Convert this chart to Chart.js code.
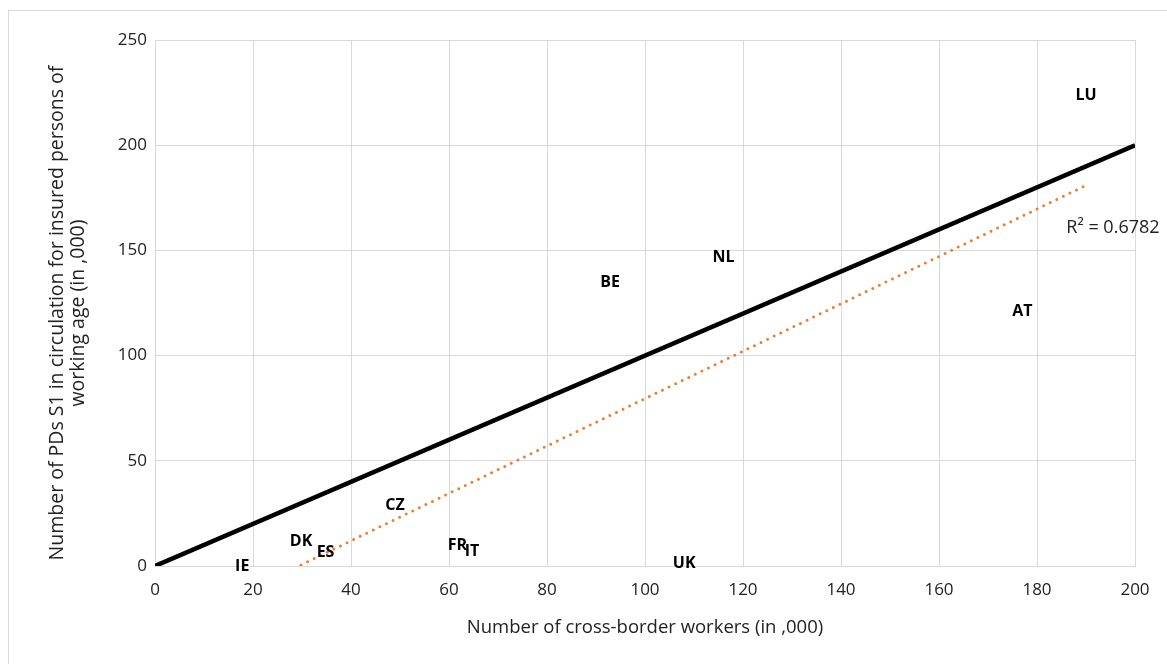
<!DOCTYPE html>
<html>
<head>
<meta charset="utf-8">
<script src="https://cdn.jsdelivr.net/npm/chart.js@4.4.1/dist/chart.umd.min.js"></script>
<style>
  html, body { margin: 0; padding: 0; background: #fff; }
  #wrap { width: 1167px; height: 664px; position: relative; }
</style>
</head>
<body>
<div id="wrap"><canvas id="scatter" width="1167" height="664"></canvas></div>
<script>
// countries and their values (in ,000)
var countries = ["IE", "DK", "ES", "CZ", "FR", "IT", "UK", "BE", "NL", "AT", "LU"];
var workers   = [17.8, 29.8, 34.8, 49, 61.7, 64.7, 108, 92.9, 116, 177, 190];
var pds       = [0, 11.9, 6.3, 29, 9.7, 7.1, 1.4, 134.6, 146.5, 121, 223.8];

// reference line x = y, and the trendline ends as shown
var refX = [0, 200];
var refY = [0, 200];
var trendX = [29.8, 189.6];
var trendY = [0.5, 180.5];
var r2Text = "R\u00B2 = 0.6782";
var r2Pos = [195.5, 160.6];

var xTicks = [0, 20, 40, 60, 80, 100, 120, 140, 160, 180, 200];
var yTicks = [0, 50, 100, 150, 200, 250];
var yTitle = ['Number of PDs S1 in circulation for insured persons of', 'working age (in ,000)'];

function toPoints(xs, ys) {
    var arr = [];
    for (var i = 0; i < xs.length; i++) {
        arr.push({x: xs[i], y: ys[i]});
    }
    return arr;
}

var FONT = "'Open Sans', 'Liberation Sans', sans-serif";

var labelPlugin = {
    id: 'pointLabels',
    beforeDraw: function (chart) {
        var ctx = chart.ctx;
        ctx.save();
        ctx.strokeStyle = '#d9d9d9';
        ctx.lineWidth = 1;
        ctx.strokeRect(8.5, 10.5, 1200, 700);
        ctx.restore();
    },
    afterDraw: function (chart) {
        // y axis title, two lines, rotated
        var ctx = chart.ctx;
        ctx.save();
        ctx.translate(57, 313);
        ctx.rotate(-Math.PI / 2);
        ctx.font = "19.5px " + FONT;
        ctx.fillStyle = '#222';
        ctx.textAlign = 'center';
        ctx.textBaseline = 'middle';
        ctx.fillText(yTitle[0], 0, 0);
        ctx.fillText(yTitle[1], 0, 21);
        ctx.restore();
    },
    afterDatasetsDraw: function (chart) {
        var ctx = chart.ctx;
        var meta = chart.getDatasetMeta(0);
        ctx.save();
        ctx.font = "bold 16px " + FONT;
        ctx.fillStyle = '#000';
        ctx.textAlign = 'center';
        ctx.textBaseline = 'middle';
        for (var i = 0; i < meta.data.length; i++) {
            var p = meta.data[i];
            ctx.fillText(countries[i], p.x, p.y);
        }
        ctx.font = "18px " + FONT;
        ctx.fillStyle = '#222';
        ctx.fillText(r2Text, chart.scales.x.getPixelForValue(r2Pos[0]), chart.scales.y.getPixelForValue(r2Pos[1]));
        ctx.restore();
    }
};

var ctx = document.getElementById("scatter").getContext("2d");
new Chart(ctx, {
    type: 'scatter',
    data: {
        datasets: [{
            label: 'Countries',
            data: toPoints(workers, pds),
            pointRadius: 0,
            pointHoverRadius: 0,
            showLine: false
        }, {
            label: 'x = y',
            data: toPoints(refX, refY),
            showLine: true,
            borderColor: '#000',
            borderWidth: 4.5,
            pointRadius: 0
        }, {
            label: 'Trend',
            data: toPoints(trendX, trendY),
            showLine: true,
            borderColor: '#ED7D31',
            borderWidth: 3,
            borderDash: [0, 7.3],
            borderCapStyle: 'round',
            pointRadius: 0
        }]
    },
    options: {
        responsive: false,
        animation: false,
        events: [],
        layout: { padding: { top: 40, right: 32, left: 0, bottom: 25 } },
        plugins: {
            legend: { display: false },
            tooltip: { enabled: false }
        },
        scales: {
            x: {
                type: 'linear',
                min: 0,
                max: 200,
                afterBuildTicks: function (scale) {
                    scale.ticks = xTicks.map(function (v) { return {value: v}; });
                },
                afterFit: function (scale) { scale.height = 73; },
                grid: { color: '#d9d9d9', lineWidth: 1, drawTicks: false },
                border: { color: '#d9d9d9' },
                ticks: { color: '#222', font: { family: FONT, size: 17 }, padding: 14 },
                title: {
                    display: true,
                    text: 'Number of cross-border workers (in ,000)',
                    color: '#222',
                    font: { family: FONT, size: 18.5 },
                    padding: { top: 0, bottom: 0 }
                }
            },
            y: {
                type: 'linear',
                min: 0,
                max: 250,
                afterBuildTicks: function (scale) {
                    scale.ticks = yTicks.map(function (v) { return {value: v}; });
                },
                afterFit: function (scale) { scale.width = 155; },
                grid: { color: '#d9d9d9', lineWidth: 1, drawTicks: false },
                border: { color: '#d9d9d9' },
                ticks: { color: '#222', font: { family: FONT, size: 17 }, padding: 8 }
            }
        }
    },
    plugins: [labelPlugin]
});
</script>
</body>
</html>
